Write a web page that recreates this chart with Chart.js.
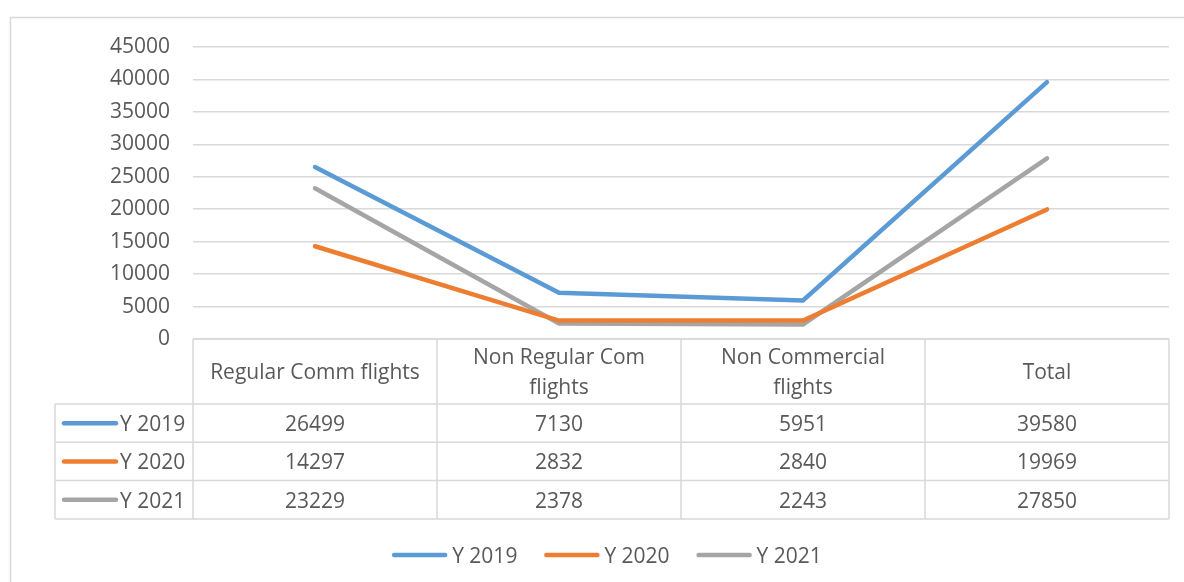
<!DOCTYPE html>
<html>
<head>
<meta charset="utf-8">
<script src="https://cdn.jsdelivr.net/npm/chart.js@4/dist/chart.umd.min.js"></script>
<style>
  body { margin: 0; background: #fff; }
  canvas { display: block; }
</style>
</head>
<body>
<canvas id="flightsChart" width="1184" height="582"></canvas>
<script>
const categories = ["Regular Comm flights", "Non Regular Com flights", "Non Commercial flights", "Total"];
const seriesNames = ["Y 2019", "Y 2020", "Y 2021"];
const y2019 = [26499, 7130, 5951, 39580];
const y2020 = [14297, 2832, 2840, 19969];
const y2021 = [23229, 2378, 2243, 27850];
const seriesColors = ["#5B9BD5", "#ED7D31", "#A5A5A5"];

const FONT = "21px 'Open Sans'";
const TEXT = "#595959";
const RULE = "#d9d9d9";
const NUDGE = 2; // Open Sans sits a touch high with middle baseline

// wrap a header into lines that fit the cell
function wrapText(ctx, text, maxW) {
    const words = text.split(" ");
    const lines = [];
    let cur = "";
    words.forEach(w => {
        const test = cur ? cur + " " + w : w;
        if (ctx.measureText(test).width > maxW && cur) {
            lines.push(cur);
            cur = w;
        } else {
            cur = test;
        }
    });
    if (cur) lines.push(cur);
    return lines;
}

// data table under the plot + legend at the bottom
const tablePlugin = {
    id: "dataTable",
    afterDraw(chart) {
        const ctx = chart.ctx;
        const area = chart.chartArea;
        const xs = chart.scales.x;
        const colW = (area.right - area.left) / categories.length;
        const keyLeft = 55;
        const headTop = area.bottom;
        const headBottom = headTop + 65;
        const rowH = 38.3;
        const tableBottom = headBottom + rowH * seriesNames.length;

        ctx.save();
        // outer chart border
        ctx.strokeStyle = RULE;
        ctx.lineWidth = 1.5;
        ctx.strokeRect(10.5, 17.5, 1200, 600);

        // table rules
        ctx.lineWidth = 1.5;
        ctx.beginPath();
        ctx.moveTo(area.left, headTop); ctx.lineTo(area.right, headTop);
        for (let r = 0; r <= seriesNames.length; r++) {
            const y = headBottom + r * rowH;
            ctx.moveTo(keyLeft, y); ctx.lineTo(area.right, y);
        }
        ctx.moveTo(keyLeft, headBottom); ctx.lineTo(keyLeft, tableBottom);
        for (let c = 0; c <= categories.length; c++) {
            const x = area.left + c * colW;
            ctx.moveTo(x, headTop); ctx.lineTo(x, tableBottom);
        }
        ctx.stroke();

        ctx.font = FONT;
        ctx.fillStyle = TEXT;
        ctx.textAlign = "center";
        ctx.textBaseline = "middle";

        // header cells
        categories.forEach((cat, i) => {
            const cx = xs.getPixelForValue(i);
            const lines = wrapText(ctx, cat, colW - 20);
            const mid = (headTop + headBottom) / 2 + NUDGE;
            const lh = 30;
            lines.forEach((ln, k) => {
                ctx.fillText(ln, cx, mid + (k - (lines.length - 1) / 2) * lh);
            });
        });

        // value rows
        chart.data.datasets.forEach((ds, r) => {
            const cy = headBottom + r * rowH + rowH / 2;
            ds.data.forEach((v, i) => {
                ctx.textAlign = "center";
                ctx.fillText(String(v), xs.getPixelForValue(i), cy + NUDGE);
            });
            // key line + series name
            ctx.strokeStyle = ds.borderColor;
            ctx.lineWidth = 4.5;
            ctx.lineCap = "round";
            ctx.beginPath();
            ctx.moveTo(64, cy); ctx.lineTo(116, cy);
            ctx.stroke();
            ctx.textAlign = "left";
            ctx.fillText(ds.label, 120, cy + NUDGE);
        });

        // bottom legend
        const legY = 555;
        const keyW = 55, gapKey = 5, gapItem = 27;
        const widths = chart.data.datasets.map(ds => keyW + gapKey + ctx.measureText(ds.label).width);
        const total = widths.reduce((a, b) => a + b, 0) + gapItem * (widths.length - 1);
        let x = 607 - total / 2;
        chart.data.datasets.forEach((ds, i) => {
            ctx.strokeStyle = ds.borderColor;
            ctx.lineWidth = 4.5;
            ctx.lineCap = "round";
            ctx.beginPath();
            ctx.moveTo(x + 2, legY); ctx.lineTo(x + keyW - 2, legY);
            ctx.stroke();
            ctx.textAlign = "left";
            ctx.fillText(ds.label, x + keyW + gapKey, legY + NUDGE);
            x += widths[i] + gapItem;
        });
        ctx.restore();
    }
};

const seriesData = [y2019, y2020, y2021];

new Chart(document.getElementById("flightsChart").getContext("2d"), {
    type: "line",
    data: {
        labels: categories,
        datasets: seriesNames.map((name, i) => ({
            label: name,
            data: seriesData[i],
            borderColor: seriesColors[i],
            backgroundColor: seriesColors[i],
            borderWidth: 4.5,
            pointRadius: 0,
            borderCapStyle: "round",
            fill: false,
            tension: 0
        }))
    },
    options: {
        responsive: false,
        animation: false,
        events: [],
        layout: { padding: { top: 47, right: 15, left: 0, bottom: 0 } },
        plugins: { legend: { display: false }, tooltip: { enabled: false } },
        scales: {
            x: {
                offset: true,
                grid: { display: false },
                border: { display: false },
                ticks: { display: false },
                afterFit: s => { s.height = 243; }
            },
            y: {
                min: 0,
                max: 45000,
                ticks: {
                    stepSize: 5000,
                    color: TEXT,
                    font: { family: "'Open Sans'", size: 21 },
                    padding: 23,
                    callback: v => String(v)
                },
                grid: { color: RULE, lineWidth: 1.5, drawTicks: false },
                border: { display: false },
                afterFit: s => { s.width = 193; }
            }
        }
    },
    plugins: [tablePlugin]
});
</script>
</body>
</html>
